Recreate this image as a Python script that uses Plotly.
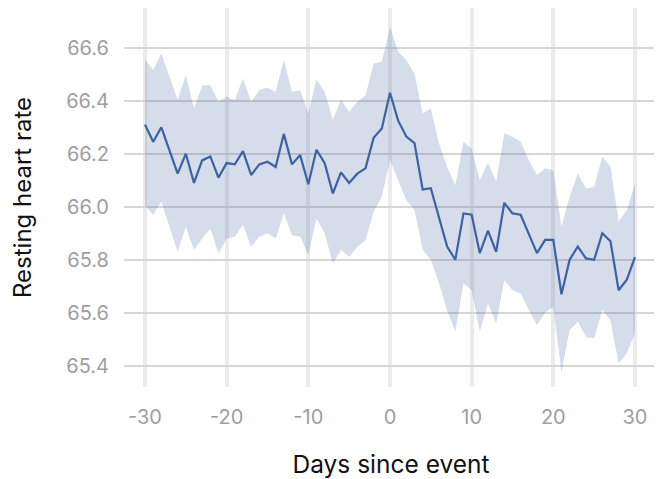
import plotly.graph_objects as go

days = list(range(-30, 31))

mean_hr = [
    66.31, 66.245, 66.30, 66.21, 66.125, 66.20, 66.09, 66.175, 66.19, 66.11,
    66.165, 66.16, 66.21, 66.12, 66.16, 66.17, 66.15, 66.275, 66.16, 66.195,
    66.085, 66.215, 66.165, 66.05, 66.13, 66.09, 66.125, 66.145, 66.26, 66.295,
    66.43,
    66.325, 66.265, 66.24, 66.065, 66.07, 65.96, 65.85, 65.80, 65.975, 65.97,
    65.825, 65.91, 65.83, 66.015, 65.975, 65.97, 65.90, 65.825, 65.875, 65.875,
    65.67, 65.80, 65.85, 65.805, 65.80, 65.90, 65.87, 65.685, 65.725, 65.81,
]

upper_hr = [
    66.556, 66.516, 66.579, 66.49, 66.403, 66.497, 66.371, 66.459, 66.459, 66.396,
    66.415, 66.403, 66.484, 66.396, 66.44, 66.45, 66.434, 66.556, 66.434, 66.44,
    66.352, 66.48, 66.434, 66.327, 66.405, 66.358, 66.396, 66.42, 66.541, 66.547,
    66.68,
    66.585, 66.554, 66.503, 66.352, 66.371, 66.239, 66.151, 66.082, 66.245, 66.22,
    66.101, 66.166, 66.094, 66.277, 66.264, 66.245, 66.176, 66.12, 66.145, 66.138,
    65.925, 66.038, 66.126, 66.069, 66.075, 66.189, 66.151, 65.944, 65.988, 66.088,
]

lower_hr = [
    66.006, 65.969, 66.019, 65.925, 65.83, 65.925, 65.837, 65.88, 65.918, 65.824,
    65.88, 65.887, 65.931, 65.849, 65.887, 65.9, 65.88, 65.975, 65.893, 65.887,
    65.818, 65.956, 65.9, 65.786, 65.837, 65.811, 65.849, 65.874, 65.981, 66.038,
    66.176,
    66.101, 66.025, 65.988, 65.837, 65.8, 65.711, 65.61, 65.528, 65.711, 65.686,
    65.528, 65.635, 65.56, 65.723, 65.686, 65.673, 65.61, 65.554, 65.6, 65.623,
    65.377, 65.535, 65.566, 65.509, 65.503, 65.61, 65.572, 65.409, 65.447, 65.522,
]

x_ticks = [-30, -20, -10, 0, 10, 20, 30]
x_tick_labels = ["-30", "-20", "-10", "0", "10", "20", "30"]
y_ticks = [65.4, 65.6, 65.8, 66.0, 66.2, 66.4, 66.6]
y_tick_labels = ["65.4", "65.6", "65.8", "66.0", "66.2", "66.4", "66.6"]

LINE = "#3e62a1"
BAND = "rgba(62,98,161,0.22)"
FONT = "Inter"

fig = go.Figure()
fig.add_trace(go.Scatter(
    x=days + days[::-1], y=upper_hr + lower_hr[::-1],
    fill="toself", fillcolor=BAND, line=dict(width=0),
    mode="lines", hoverinfo="skip", showlegend=False,
))
fig.add_trace(go.Scatter(
    x=days, y=mean_hr, mode="lines",
    line=dict(color=LINE, width=2.2), showlegend=False,
))

fig.update_layout(
    width=654, height=471,
    margin=dict(l=116, r=4, t=0, b=92),
    paper_bgcolor="white", plot_bgcolor="white",
    font=dict(family=FONT, color="#9e9e9e", size=20),
)
fig.update_xaxes(
    range=[-32.57, 32.82], tickvals=x_ticks, ticktext=x_tick_labels,
    showgrid=True, gridcolor="#ebebeb", gridwidth=3.5,
    zeroline=False, showline=False, ticks="", automargin=False,
    ticklabelstandoff=16,
    tickfont=dict(family=FONT, size=20, color="#9e9e9e"),
    title=dict(text="Days since event", font=dict(family=FONT, size=24.5, color="#111111"), standoff=31),
)
fig.update_yaxes(
    range=[65.32, 66.75], tickvals=y_ticks, ticktext=y_tick_labels,
    showgrid=True, gridcolor="#d6d6d6", gridwidth=2,
    zeroline=False, showline=False, ticks="", automargin=False,
    ticklabelstandoff=14,
    tickfont=dict(family=FONT, size=20, color="#9e9e9e"),
    title=dict(text="Resting heart rate", font=dict(family=FONT, size=24, color="#111111"), standoff=27),
)

fig.write_html("out.html")
